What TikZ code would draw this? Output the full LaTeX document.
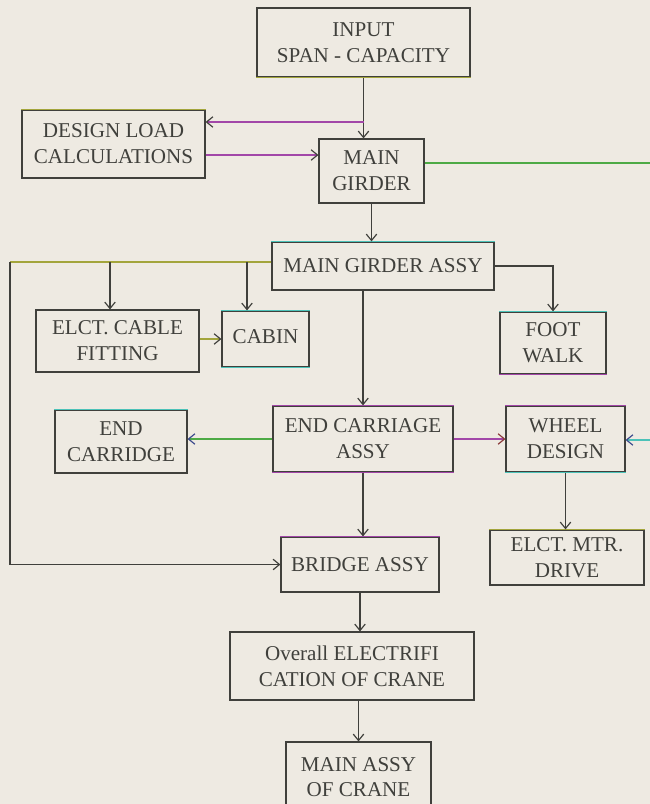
\documentclass[tikz,border=0pt]{standalone}
\usepackage{fontspec}
\setmainfont{Liberation Serif}
\usepackage{xcolor}
\usetikzlibrary{positioning,calc,arrows.meta}

\definecolor{paper}{HTML}{EEEAE2}
\definecolor{ink}{HTML}{40403C}
\definecolor{crplum}{HTML}{A247A8}
\definecolor{crleaf}{HTML}{4DAA45}
\definecolor{crolive}{HTML}{A3A53C}
\definecolor{crcyan}{HTML}{4CC2B8}
\definecolor{crblue}{HTML}{3C4A8C}
\definecolor{crred}{HTML}{8A3A3A}

\tikzset{
  block/.style={draw=ink, line width=1pt, align=center, inner sep=0pt,
    text=ink, font=\fontsize{18}{22}\selectfont},
  link/.style={draw=ink, line width=1pt, -{Straight Barb[length=5.5pt,width=9pt,color=ink]}},
  linkb/.style={link, -{Straight Barb[length=5.5pt,width=9pt,color=crblue]}},
}

\begin{document}
\begin{tikzpicture}[x=0.03cm, y=-0.03cm]
  % Paper
  \fill[paper] (0,0) rectangle (650,804);
  \useasboundingbox (0,0) rectangle (650,804);

  % Blocks
  \node[block, minimum width=6.39cm, minimum height=2.07cm] (input) at (363.5,42.5) {INPUT\\SPAN - CAPACITY};
  \node[block, minimum width=5.49cm, minimum height=2.04cm] (design) at (113.5,144) {DESIGN LOAD\\CALCULATIONS};
  \node[block, minimum width=3.15cm, minimum height=1.92cm] (girder) at (371.5,171) {MAIN\\GIRDER};
  \node[block, minimum width=6.66cm, minimum height=1.44cm] (assy) at (383,266) {MAIN GIRDER ASSY};
  \node[block, minimum width=4.89cm, minimum height=1.86cm] (cable) at (117.5,341) {ELCT. CABLE\\FITTING};
  \node[block, minimum width=2.61cm, minimum height=1.68cm] (cabin) at (265.5,339) {\raisebox{4pt}{CABIN}};
  \node[block, minimum width=3.18cm, minimum height=1.86cm] (foot) at (553,343) {FOOT\\WALK};
  \node[block, minimum width=3.96cm, minimum height=1.89cm] (endc) at (121,441.5) {END\\CARRIDGE};
  \node[block, minimum width=5.40cm, minimum height=1.98cm] (endassy) at (363,439) {END CARRIAGE\\ASSY};
  \node[block, minimum width=3.57cm, minimum height=1.98cm] (wheel) at (565.5,439) {WHEEL\\DESIGN};
  \node[block, minimum width=4.74cm, minimum height=1.65cm] (bridge) at (360,564.5) {BRIDGE ASSY};
  \node[block, minimum width=4.62cm, minimum height=1.65cm] (motor) at (567,557.5) {ELCT. MTR.\\DRIVE};
  \node[block, minimum width=7.32cm, minimum height=2.04cm] (elec) at (352,666) {Overall ELECTRIFI\\CATION OF CRANE};
  \node[block, minimum width=4.35cm, minimum height=2.10cm] (crane) at (358.5,777) {MAIN ASSY\\OF CRANE};

  % Tinted edges of the print
  \foreach \n/\side/\col in {input/south/crolive, design/north/crolive, assy/north/crcyan,
      cabin/north/crcyan, cabin/south/crcyan, foot/north/crcyan, foot/south/crplum,
      endc/north/crcyan, endassy/north/crplum, endassy/south/crplum, wheel/north/crplum,
      wheel/south/crcyan, bridge/north/crplum, motor/north/crolive}
    \draw[\col, line width=1.2pt] (\n.\side\space west) -- (\n.\side\space east);

  % Tap points
  \coordinate (tapin) at (363.5,122);
  \coordinate (tapdl) at (0,155);
  \coordinate (rimtop) at (650,163);
  \coordinate (rimleft) at (10,262);
  \coordinate (brcable) at (110,262);
  \coordinate (brcabin) at (247,262);
  \coordinate (rimright) at (650,440);

  % Input and load calculations
  \draw[link] (input.south) -- (input.south |- girder.north);
  \draw[link, draw=crplum] (tapin) -- (tapin -| design.east);
  \draw[link, draw=crplum] (design.east |- tapdl) -- (girder.west |- tapdl);
  \draw[crleaf, line width=1.2pt] (girder.east |- rimtop) -- (rimtop);
  \draw[link] (girder.south) -- (girder.south |- assy.north);

  % Main girder assembly branches
  \draw[crolive, line width=1pt] (assy.west |- rimleft) -- (rimleft);
  \draw[link] (rimleft) |- (bridge.west);
  \draw[link] (brcable) -- (brcable |- cable.north);
  \draw[link] (brcabin) -- (brcabin |- cabin.north);
  \draw[link] (assy.east) -| (foot.north);
  \draw[link, draw=crolive] (cable.east |- cabin.west) -- (cabin.west);
  \draw[link] (assy.south -| endassy.north) -- (endassy.north);

  % End carriage assembly
  \draw[linkb, draw=crleaf] (endassy.west) -- (endassy.west -| endc.east);
  \draw[link, draw=crplum, -{Straight Barb[length=5.5pt,width=9pt,color=crred]}] (endassy.east) -- (endassy.east -| wheel.west);
  \draw[linkb, draw=crcyan] (rimright) -- (rimright -| wheel.east);
  \draw[link] (wheel.south) -- (wheel.south |- motor.north);
  \draw[link] (endassy.south) -- (endassy.south |- bridge.north);

  % Final assembly
  \draw[link] (bridge.south) -- (bridge.south |- elec.north);
  \draw[link] (elec.south -| crane.north) -- (crane.north);
\end{tikzpicture}
\end{document}
